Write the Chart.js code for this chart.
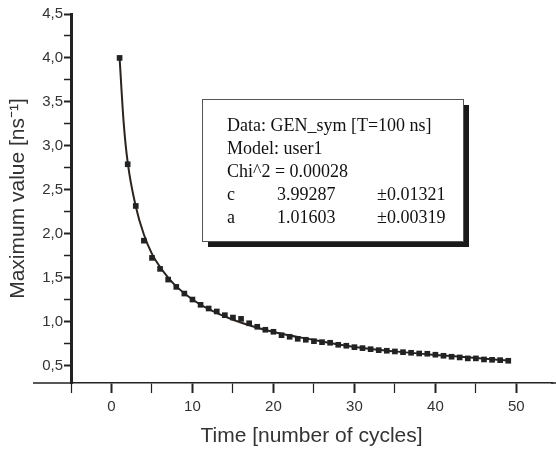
<!DOCTYPE html>
<html>
<head>
<meta charset="utf-8">
<script src="https://cdn.jsdelivr.net/npm/chart.js@4"></script>
<style>
html, body { margin: 0; padding: 0; background: #fff; }
#wrap { width: 556px; height: 450px; }
</style>
</head>
<body>
<div id="wrap"><canvas id="chart" width="556" height="450"></canvas></div>
<script>
const cycles = [1, 2, 3, 4, 5, 6, 7, 8, 9, 10, 11, 12, 13, 14, 15, 16, 17, 18, 19, 20, 21, 22, 23, 24, 25,
  26, 27, 28, 29, 30, 31, 32, 33, 34, 35, 36, 37, 38, 39, 40, 41, 42, 43, 44, 45, 46, 47, 48, 49];
const maxValues = [4.00, 2.79, 2.315, 1.92, 1.724, 1.599, 1.477, 1.394, 1.318, 1.25, 1.19, 1.148, 1.114, 1.072, 1.045, 1.03,
  0.98, 0.94, 0.906, 0.883, 0.844, 0.826, 0.803, 0.792, 0.776, 0.765, 0.758, 0.735, 0.724, 0.708, 0.697, 0.685,
  0.674, 0.667, 0.659, 0.651, 0.644, 0.636, 0.633, 0.622, 0.61, 0.599, 0.591, 0.58, 0.58, 0.568, 0.564, 0.56, 0.553];

// fitted curve
const fitCycles = [1, 1.5, 2, 3, 4, 5, 6, 7, 8, 10, 12, 15, 20, 25, 30, 35, 40, 45, 49];
const fitValues = [4.0, 3.27, 2.81, 2.31, 1.99, 1.77, 1.62, 1.50, 1.40, 1.25, 1.14, 1.02, 0.88, 0.79, 0.71, 0.66, 0.62, 0.585, 0.555];

const xTicks = [-5, 0, 5, 10, 15, 20, 25, 30, 35, 40, 45, 50];
const yTicks = [0.5, 0.75, 1, 1.25, 1.5, 1.75, 2, 2.25, 2.5, 2.75, 3, 3.25, 3.5, 3.75, 4, 4.25, 4.5];

const fitInfo = [
  ['Data: GEN_sym [T=100 ns]'],
  ['Model: user1'],
  ['Chi^2 = 0.00028'],
  ['c', '3.99287', '\u00b10.01321'],
  ['a', '1.01603', '\u00b10.00319']
];

const ink = '#222';
const sans = '"Liberation Sans", Arial, sans-serif';

// axis line runs past both ends of the plot, plus the fit result box
const extras = {
  id: 'extras',
  afterDraw(chart) {
    const ctx = chart.ctx;
    const area = chart.chartArea;
    ctx.save();
    ctx.strokeStyle = ink;
    ctx.lineWidth = 1.5;
    ctx.beginPath();
    ctx.moveTo(33, area.bottom);
    ctx.lineTo(area.left, area.bottom);
    ctx.moveTo(area.right - 1, area.bottom);
    ctx.lineTo(chart.width, area.bottom);
    ctx.stroke();

    // fit box with shadow
    const bx = 202, by = 99, bw = 261, bh = 142;
    ctx.fillStyle = '#1a1a1a';
    ctx.fillRect(bx + 6, by + 6, bw, bh);
    ctx.fillStyle = '#fff';
    ctx.fillRect(bx, by, bw, bh);
    ctx.strokeStyle = '#555';
    ctx.lineWidth = 1;
    ctx.strokeRect(bx + 0.5, by + 0.5, bw, bh);

    ctx.fillStyle = '#111';
    ctx.font = '18px "Liberation Serif", "Times New Roman", serif';
    ctx.textBaseline = 'middle';
    const cols = [227, 277, 377];
    fitInfo.forEach((row, i) => {
      row.forEach((txt, j) => ctx.fillText(txt, cols[j], 126 + i * 23));
    });
    ctx.restore();
  }
};

const isMajorY = v => Math.abs(v * 2 - Math.round(v * 2)) < 1e-6;
const isMajorX = v => v % 10 === 0 && v >= 0 && v <= 50;

new Chart(document.getElementById('chart'), {
  type: 'scatter',
  data: {
    datasets: [
      {
        label: 'data',
        data: cycles.map((x, i) => ({ x: x, y: maxValues[i] })),
        pointStyle: 'rect',
        pointRadius: 4,
        backgroundColor: ink,
        borderColor: ink,
        borderWidth: 0,
        showLine: false
      },
      {
        label: 'fit',
        data: fitCycles.map((x, i) => ({ x: x, y: fitValues[i] })),
        showLine: true,
        pointRadius: 0,
        borderColor: '#2a2420',
        borderWidth: 2,
        cubicInterpolationMode: 'monotone'
      }
    ]
  },
  options: {
    responsive: false,
    animation: false,
    layout: { padding: { top: 14, right: 0, left: 0, bottom: 0 } },
    plugins: { legend: { display: false }, tooltip: { enabled: false } },
    scales: {
      x: {
        type: 'linear',
        min: -5,
        max: 54.4,
        afterBuildTicks: s => { s.ticks = xTicks.map(v => ({ value: v })); },
        afterFit: s => { s.height = 67; },
        border: { display: true, color: ink, width: 1.5 },
        grid: {
          drawOnChartArea: false,
          drawTicks: true,
          tickLength: 10,
          tickColor: ink,
          tickWidth: c => (isMajorX(c.tick.value) ? 2 : 1.2)
        },
        ticks: {
          autoSkip: false,
          maxRotation: 0,
          padding: 5,
          color: '#333',
          font: { family: sans, size: 15 },
          callback: v => (isMajorX(v) ? String(v) : '')
        },
        title: {
          display: true,
          text: 'Time [number of cycles]',
          color: '#333',
          font: { family: sans, size: 21 },
          padding: { top: 0, bottom: 1 }
        }
      },
      y: {
        min: 0.3,
        max: 4.5,
        afterBuildTicks: s => { s.ticks = yTicks.map(v => ({ value: v })); },
        afterFit: s => { s.width = 71; },
        border: { display: true, color: ink, width: 3 },
        grid: {
          drawOnChartArea: false,
          drawTicks: true,
          tickLength: 7,
          tickColor: ink,
          tickWidth: c => (isMajorY(c.tick.value) ? 2 : 1.5)
        },
        ticks: {
          autoSkip: false,
          padding: 1,
          color: '#333',
          font: { family: sans, size: 15 },
          callback: v => (isMajorY(v) ? v.toFixed(1).replace('.', ',') : '')
        },
        title: {
          display: true,
          text: 'Maximum value [ns\u207b\u00b9]',
          color: '#333',
          font: { family: sans, size: 21 },
          padding: { top: 6, bottom: 0 }
        }
      }
    }
  },
  plugins: [extras]
});
</script>
</body>
</html>
